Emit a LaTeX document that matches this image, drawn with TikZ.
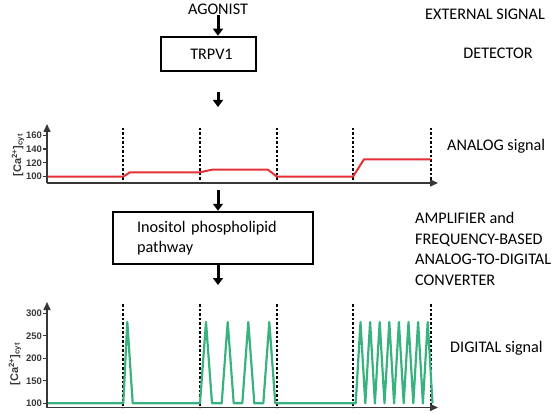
\documentclass[tikz,border=0pt]{standalone}
\usepackage{fontspec}
\setmainfont{Carlito}
\newfontfamily\axisfont{Liberation Sans}
\usetikzlibrary{arrows.meta,positioning}
\definecolor{sigred}{RGB}{228,48,54}
\definecolor{siggreen}{RGB}{58,178,128}
\definecolor{axisgray}{RGB}{55,55,55}

\begin{document}
\begin{tikzpicture}[x=1pt, y=-1pt,
    lbl/.style = {font=\fontsize{16.2}{20.6}\selectfont, inner sep=0pt},
    box/.style = {draw, line width=2.5pt, font=\fontsize{16.2}{20.4}\selectfont},
    flow/.style = {line width=3pt, -{Triangle[width=10pt,length=7pt]}},
    axis/.style = {line width=1.5pt, axisgray, -{Triangle[width=7pt,length=8pt]}},
    guide/.style = {line width=1.2pt, dash pattern=on 2.5pt off 2pt},
    ytick/.style = {line width=1.2pt, axisgray},
    num/.style = {font=\axisfont\bfseries\fontsize{9.5}{10}\selectfont, anchor=east, inner sep=0.8pt, axisgray},
    ylab/.style = {font=\axisfont\bfseries\fontsize{11}{12}\selectfont, rotate=90, axisgray},
    analog/.style = {line width=2pt, sigred, line join=round},
    digital/.style = {line width=2.2pt, siggreen, line join=round}]
  \useasboundingbox (0,0) rectangle (559,414);

  % detector
  \node[lbl] (agonist) at (218,9) {AGONIST};
  \node[box, minimum width=95pt, minimum height=34pt, text width=89pt, align=center,
        inner xsep=0pt] (trpv) at (208.5,54) {\hspace*{6pt}TRPV1};
  \draw[flow] (agonist.south) -- (agonist.south |- trpv.north);
  \coordinate (c1) at (218,92);
  \coordinate (c1e) at (218,107);
  \draw[flow] (c1) -- (c1e);

  \node[lbl] (ext) at (485,14) {EXTERNAL SIGNAL};
  \node[lbl] (det) at (498,53) {DETECTOR};

  % analog plot
  \coordinate (a0) at (47,183);
  \coordinate (ax) at (438,183);
  \coordinate (ay) at (47,124);
  \foreach \x in {123,200,277,353,431}
    \draw[guide] (\x,128) -- (\x,183);
  \draw[analog] (47,176.7) -- (123,176.7) -- (130,172.3) -- (200,172.3) -- (212,169.7)
    -- (268,169.7) -- (277,176.7) -- (353,176.7) -- (364,159.3) -- (431,159.3);
  \draw[axis] (a0) -- (ax);
  \draw[axis] (a0) -- (ay);
  \foreach \v in {100,120,140,160} {
    \draw[ytick] (43,{176.7-0.69*(\v-100)}) -- (47,{176.7-0.69*(\v-100)});
    \node[num] at (43,{176.7-0.69*(\v-100)}) {\v};
  }
  \node[ylab] (alab) at (18,155) {[Ca\textsuperscript{2+}]\textsubscript{cyt}};
  \node[lbl, anchor=west] (ana) at (447,146) {ANALOG signal};

  % amplifier
  \node[box, minimum width=200pt, minimum height=52pt, text width=152pt, align=left,
        inner xsep=0pt] (ipp) at (213,238) {Inositol phospholipid\\pathway};
  \coordinate (c2) at (218,190);
  \draw[flow] (c2) -- (c2 |- ipp.north);
  \coordinate (c3) at (218,285);
  \draw[flow] (c3 |- ipp.south) -- (c3);
  \node[lbl, anchor=west, align=left] (amp) at (415,249)
    {AMPLIFIER and\\FREQUENCY-BASED\\ANALOG-TO-DIGITAL\\CONVERTER};

  % digital plot
  \coordinate (d0) at (47,407.5);
  \coordinate (dx) at (438,407.5);
  \coordinate (dy) at (47,302);
  \foreach \x in {123,200,277,353,431}
    \draw[guide] (\x,304) -- (\x,407.5);
  \draw[digital] (47,403.3) -- (123.3,403.3) -- (127.3,322) -- (132.7,403.3) -- (200,403.3)
    \foreach \p in {206,227.7,248.3,269.3} { -- (\p-6,403.3) -- (\p,322) -- (\p+6,403.3) }
    -- (353,403.3)
    \foreach \p in {360.5,370.1,379.7,389.3,398.9,408.5,418.1,427.7} { -- (\p-4.8,403.3) -- (\p,322) -- (\p+4.8,403.3) };
  \draw[axis] (d0) -- (dx);
  \draw[axis] (d0) -- (dy);
  \foreach \v in {100,150,200,250,300} {
    \draw[ytick] (43,{403.3-0.45*(\v-100)}) -- (47,{403.3-0.45*(\v-100)});
    \node[num] at (43,{403.3-0.45*(\v-100)}) {\v};
  }
  \node[ylab] (dlab) at (15,364) {[Ca\textsuperscript{2+}]\textsubscript{cyt}};
  \node[lbl, anchor=west] (dig) at (450,348) {DIGITAL signal};
\end{tikzpicture}
\end{document}
